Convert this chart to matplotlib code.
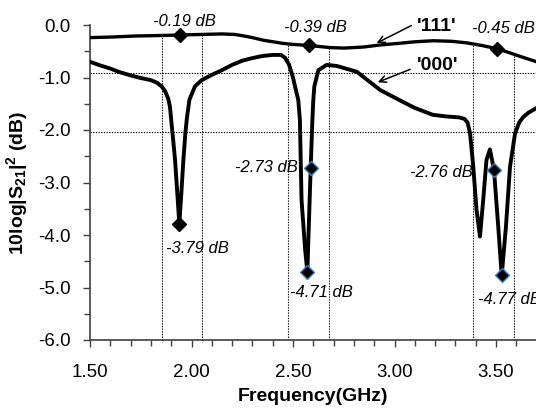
import matplotlib
matplotlib.use("Agg")
import matplotlib.pyplot as plt
import numpy as np

plt.rcParams["font.family"] = ["Liberation Sans", "DejaVu Sans"]
plt.rcParams["mathtext.fontset"] = "custom"
plt.rcParams["mathtext.rm"] = "Liberation Sans"
plt.rcParams["mathtext.bf"] = "Liberation Sans:bold"
plt.rcParams["mathtext.it"] = "Liberation Sans:italic"

# '111' state: transmission (dB) vs frequency (GHz)
freq_111 = [1.50, 1.60, 1.72, 1.85, 1.943, 2.05, 2.15, 2.214, 2.26, 2.30, 2.354,
            2.45, 2.50, 2.579, 2.682, 2.75, 2.846, 2.93, 3.02, 3.10, 3.19, 3.28,
            3.356, 3.43, 3.503, 3.56, 3.62, 3.70]
db_111 = [-0.24, -0.23, -0.21, -0.20, -0.19, -0.18, -0.17, -0.18, -0.21, -0.24, -0.29,
          -0.35, -0.37, -0.39, -0.43, -0.44, -0.42, -0.38, -0.35, -0.32, -0.30, -0.31,
          -0.34, -0.39, -0.45, -0.52, -0.60, -0.70]

# '000' state: transmission (dB) vs frequency (GHz)
freq_000 = [1.50, 1.55, 1.60, 1.64, 1.70, 1.75, 1.80, 1.83, 1.853, 1.87, 1.885,
            1.894, 1.90, 1.91, 1.919, 1.93, 1.94, 1.95, 1.96, 1.97, 1.978, 1.99,
            2.017, 2.05, 2.10, 2.15, 2.20, 2.25, 2.30, 2.35, 2.40, 2.44, 2.46,
            2.48, 2.50, 2.51, 2.526, 2.534, 2.542, 2.56, 2.571, 2.574, 2.587,
            2.595, 2.600, 2.605, 2.625, 2.666, 2.715, 2.814, 2.93, 3.024, 3.10,
            3.188, 3.25, 3.319, 3.345, 3.36, 3.372, 3.388, 3.404, 3.421, 3.437,
            3.453, 3.47, 3.49, 3.511, 3.528, 3.549, 3.569, 3.594, 3.615, 3.635,
            3.66, 3.70]
db_000 = [-0.70, -0.77, -0.83, -0.89, -0.96, -1.01, -1.05, -1.10, -1.17, -1.26, -1.40,
          -1.56, -1.81, -2.20, -2.57, -3.20, -3.79, -3.20, -2.57, -2.05, -1.75, -1.42,
          -1.17, -1.05, -0.95, -0.86, -0.76, -0.68, -0.63, -0.59, -0.57, -0.57, -0.62,
          -0.75, -1.00, -1.17, -1.43, -1.81, -3.33, -4.29, -4.71, -4.29, -2.73,
          -1.85, -1.43, -1.17, -0.86, -0.76, -0.78, -0.89, -1.24, -1.43, -1.58,
          -1.71, -1.74, -1.76, -1.79, -1.86, -2.06, -2.70, -3.52, -4.03, -3.33,
          -2.57, -2.37, -2.76, -3.84, -4.77, -3.84, -2.70, -2.06, -1.85, -1.75,
          -1.67, -1.58]

# Labelled points
mark_111_f = [1.943, 2.579, 3.503]
mark_111_db = [-0.19, -0.39, -0.45]
mark_000_f = [1.94]
mark_000_db = [-3.79]
mark_alt_f = [2.587, 2.571, 3.49, 3.528]
mark_alt_db = [-2.73, -4.71, -2.76, -4.77]

# Band edges and reference levels
band_edges = [1.853, 2.05, 2.477, 2.679, 3.385, 3.588]
ref_levels = [-0.91, -2.03]

x_ticks = [1.50, 2.00, 2.50, 3.00, 3.50]
y_ticks = [0.0, -1.0, -2.0, -3.0, -4.0, -5.0, -6.0]

fig = plt.figure(figsize=(5.36, 4.09), dpi=100)
ax = fig.add_axes([90 / 536, 1 - 340 / 409, 446 / 536, 315 / 409])
ax.set_xlim(1.5, 3.697)
ax.set_ylim(-6.0, 0.0)

# dotted guide lines
for f in band_edges:
    top = np.interp(f, freq_111, db_111)
    ax.plot([f, f], [-6.0, top], ls=(0, (1.2, 1.2)), color="black", lw=0.8, zorder=1)
for lv in ref_levels:
    ax.plot([1.5, 3.697], [lv, lv], ls=(0, (1.2, 1.2)), color="black", lw=0.8, zorder=1)

ax.plot(freq_111, db_111, color="black", lw=2.4, zorder=3, solid_joinstyle="round")
ax.plot(freq_000, db_000, color="black", lw=2.8, zorder=3, solid_joinstyle="round")

ax.plot(mark_111_f, mark_111_db, ls="none", marker="D", ms=7, mfc="black", mec="black", zorder=4)
ax.plot(mark_000_f, mark_000_db, ls="none", marker="D", ms=7, mfc="black", mec="black", zorder=4)
ax.plot(mark_alt_f, mark_alt_db, ls="none", marker="D", ms=7, mfc="black", mec="#3d7fc4",
        mew=1.0, zorder=4)

# value labels: (x offset pt, y offset pt, ha)
label_pts = list(zip(mark_111_f + mark_000_f + mark_alt_f,
                     mark_111_db + mark_000_db + mark_alt_db))
label_style = [(3, 9.6, "center"), (4.3, 13.2, "center"), (5, 14.4, "center"),
               (13, -17.3, "center"), (-9.4, 0.5, "right"), (9.9, -14.6, "center"),
               (-15.3, -1.7, "right"), (-16.8, -17.3, "left")]
for (f, v), (dx, dy, ha) in zip(label_pts, label_style):
    ax.annotate(f"{v:.2f} dB", xy=(f, v), xytext=(dx, dy), textcoords="offset points",
                ha=ha, va="center", fontsize=12, style="italic", annotation_clip=False,
                zorder=5)

# state labels with arrows
ax.annotate("", xy=(2.900, -0.368), xytext=(3.095, 0.013),
            arrowprops=dict(arrowstyle="->", lw=1.1, color="black", mutation_scale=12),
            annotation_clip=False)
ax.text(3.208, -0.03, "'111'", ha="center", va="center", fontsize=14, fontweight="bold",
        clip_on=False)
ax.annotate("", xy=(2.905, -1.11), xytext=(3.090, -0.825),
            arrowprops=dict(arrowstyle="->", lw=1.1, color="black", mutation_scale=12),
            annotation_clip=False)
ax.text(3.213, -0.775, "'000'", ha="center", va="center", fontsize=14, fontweight="bold",
        clip_on=False)

for s in ["top", "right"]:
    ax.spines[s].set_visible(False)
for s in ["left", "bottom"]:
    ax.spines[s].set_color("#404040")
    ax.spines[s].set_linewidth(1.2)

ax.set_xticks(x_ticks)
ax.set_xticklabels([f"{t:.2f}" for t in x_ticks])
ax.set_xticks(np.arange(1.5, 3.70, 0.1), minor=True)
ax.set_yticks(y_ticks)
ax.set_yticklabels([f"{t:.1f}" for t in y_ticks])
ax.set_yticks(np.arange(-6.0, 0.01, 0.5), minor=True)
ax.tick_params(axis="both", which="both", direction="out", color="#404040", width=1.0,
               labelsize=13.5)
ax.tick_params(axis="both", which="major", length=5)
ax.tick_params(axis="both", which="minor", length=4)
ax.tick_params(axis="x", which="major", pad=12)
ax.tick_params(axis="y", which="major", pad=9)

ax.set_xlabel("Frequency(GHz)", fontsize=14, fontweight="bold", labelpad=5)
ax.set_ylabel(r"10log|S$_\mathbf{21}$|$^\mathbf{2}$ (dB)", fontsize=14, fontweight="bold",
              labelpad=6)

fig.savefig("out.png", dpi=100)
